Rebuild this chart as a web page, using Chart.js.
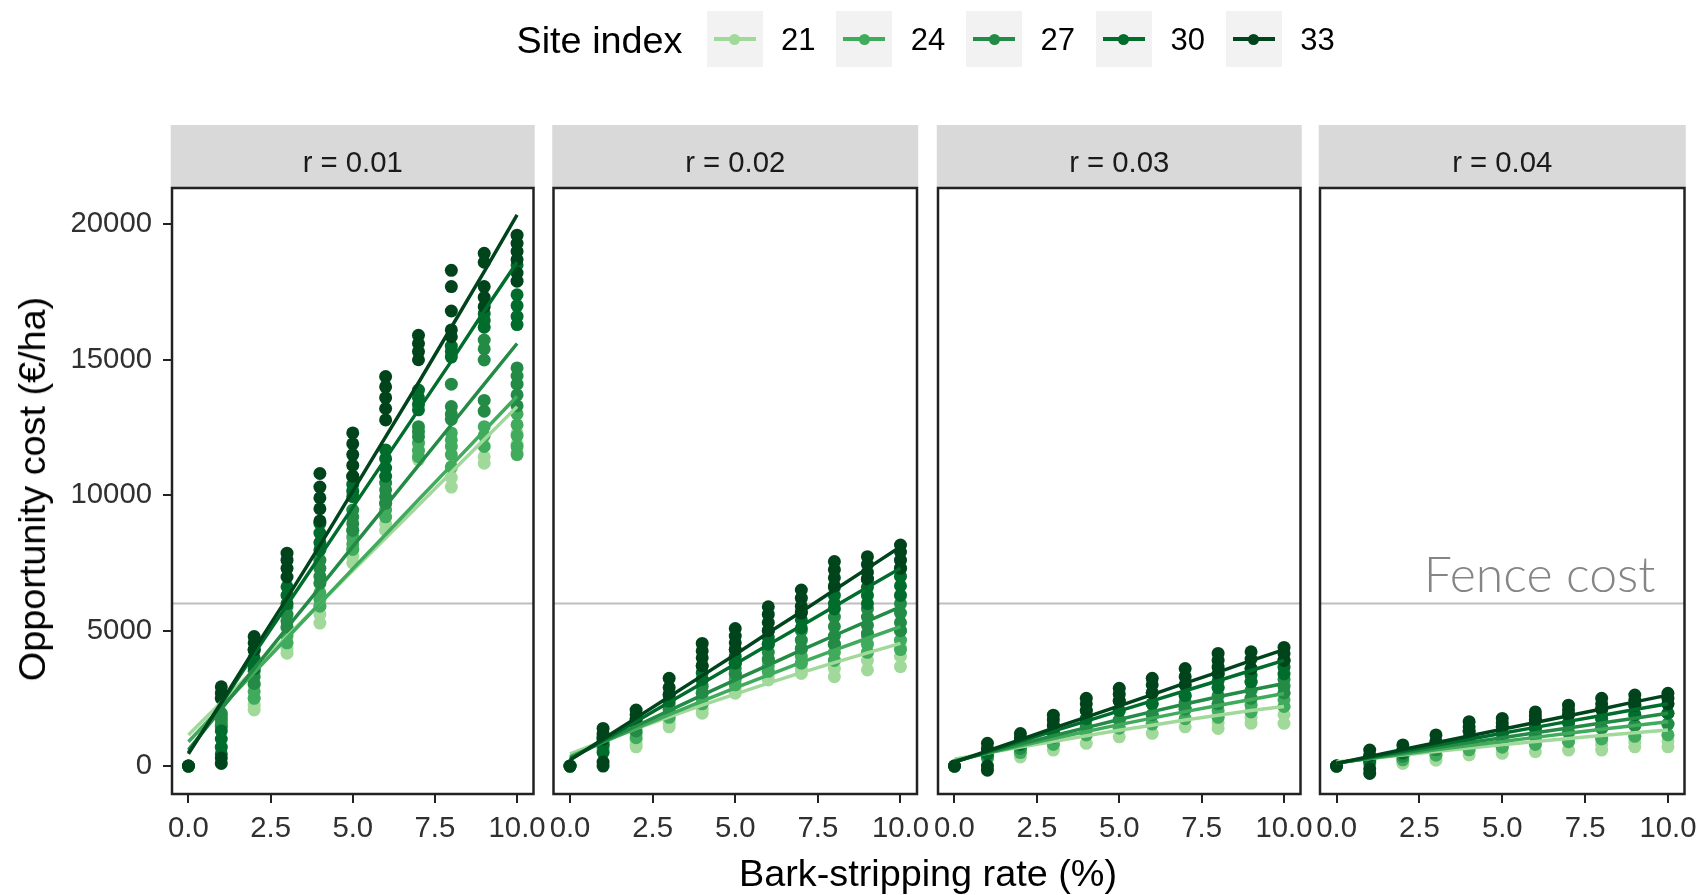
<!DOCTYPE html>
<html>
<head>
<meta charset="utf-8">
<title>Opportunity cost of bark stripping</title>
<script src="https://cdn.jsdelivr.net/npm/chart.js@4.4.1/dist/chart.umd.min.js"></script>
<style>
  html, body { margin: 0; padding: 0; background: #ffffff; }
  #figure { position: relative; width: 1699px; height: 895px; overflow: hidden;
            font-family: "Liberation Sans", Arial, sans-serif; }
  #figure canvas { position: absolute; top: 0; }
  .txt { position: absolute; white-space: nowrap; color: #000; }
  .key { position: absolute; background: #F2F2F2; }
  .key .ln { position: absolute; height: 4px; }
  .key .dot { position: absolute; border-radius: 50%; }
</style>
</head>
<body>
<div id="figure"></div>
<script>
// ---- data ---------------------------------------------------------------
const rates = [0, 1, 2, 3, 4, 5, 6, 7, 8, 9, 10];          // bark-stripping rate (%)
const siteIndex = [21, 24, 27, 30, 33];
const siteColors = ['#A1D99B', '#41AB5D', '#238B45', '#006D2C', '#00441B'];
const discountRates = ['0.01', '0.02', '0.03', '0.04'];
const xTicks = [0, 2.5, 5, 7.5, 10];
const yTicks = [0, 5000, 10000, 15000, 20000];
const xRange = [-0.5, 10.5];
const yRange = [-1030, 21340];
const fenceCost = 6000;                                     // €/ha

// simulated opportunity costs (€/ha), one list per bark-stripping rate
const obs_r01_si21 = [[0],[1600,1400],[2500,2250,2070],[4550,4350,4170],[5900,5600,5280],[8000,7750,7500],[9200,8950,8700],[11670,11450,11300],[11000,10650,10300],[11420,11180],[12300,11900,11600]];
const obs_r01_si24 = [[0],[1850,1650,1450],[3000,2750,2500],[5100,4800,4550],[6400,6150,5900],[8700,8450,8200,8000],[9700,9450,9200],[11920,11650,11420],[12300,12040,11800,11500,11050],[12530,12200,11800],[13000,12600,12200,11800,11500]];
const obs_r01_si27 = [[0],[1950,1750,1500],[3500,3300,3050],[5880,5600,5350,5140],[7600,7300,7000,6750],[9450,9200,8950,8700],[10450,10200,9950,9700],[12530,12350,12160],[14100,13270,13000,12800],[15730,15400,14990,13500,13100],[14700,14400,14100,13700,13300]];
const obs_r01_si30 = [[0],[1300,1000,700,450],[4280,4000,3750,3600],[6620,6300,6000],[8960,8600,8250,7980],[10700,10400,10150,9950],[11670,11350,11000,10700],[13880,13600,13350,13150],[15500,15300,15100],[16700,16450,16200],[18500,17400,17000,16600,16300]];
const obs_r01_si33 = [[0],[2930,2700,2500,300,100],[4780,4550,4300],[7860,7600,7300,6980],[10800,10300,9900,9500,9050],[12300,11900,11500,11100,10700],[14380,14000,13600,13200,12780],[15900,15600,15300,15000],[18300,17700,16800,16100,15850],[18930,18600,17700,17300,16960],[19600,19300,19000,18700,18200,17900]];

const obs_r02_si21 = [[0],[800,550],[950,800,710],[1700,1570,1450],[2300,2100,1950],[3000,2850,2690],[3500,3330,3180],[3800,3600,3420],[3900,3600,3300],[4200,3900,3550],[4400,4050,3670]];
const obs_r02_si24 = [[0],[900,650],[1200,1050],[2000,1800],[2700,2500,2300],[3400,3200,3000],[3900,3700,3500],[4300,4050,3800],[4500,4200,3900],[4800,4500,4200],[5000,4650,4300]];
const obs_r02_si27 = [[0],[1000,750],[1450,1300],[2300,2100],[3200,2950,2700],[3800,3600,3400],[4500,4200,3950],[5000,4650,4350],[5500,5150,4800,4500],[5800,5500,5200,4900],[6000,5650,5300,5000]];
const obs_r02_si30 = [[0],[1100,800,500],[1700,1550],[2600,2400],[3700,3450,3200],[4300,4050,3800],[5000,4750,4500],[5700,5400,5100],[6600,6300,6000,5800],[6900,6600,6300,6000],[7300,7000,6650,6300]];
const obs_r02_si33 = [[0],[1390,1200,1000,150,0],[2070,1900,1750],[3240,2900,2650],[4530,4250,4000,3700],[5080,4800,4550,4300],[5880,5600,5300,5000],[6500,6200,5900,5650],[7550,7250,6950,6650],[7730,7450,7150,6900],[8160,7900,7600,7300]];

const obs_r03_si21 = [[0],[400,250],[500,340],[800,590],[1150,840],[1400,1080],[1550,1210],[1750,1450],[1800,1600,1390],[2000,1800,1580],[2200,1900,1580]];
const obs_r03_si24 = [[0],[450,300],[650,500],[1050,800],[1450,1150],[1700,1400],[1900,1550],[2100,1750],[2300,2050,1800],[2500,2250,2000],[2700,2450,2200]];
const obs_r03_si27 = [[0],[500,350],[800,650],[1250,1050],[1750,1450],[2050,1700],[2300,1900],[2600,2350,2100],[2900,2600,2300],[3100,2800,2500],[3200,2950,2700]];
const obs_r03_si30 = [[0],[600,450],[950,800],[1500,1250],[2050,1750],[2400,2050],[2700,2300],[3000,2600],[3400,3150,2900],[3600,3350,3100],[3900,3650,3400]];
const obs_r03_si33 = [[0],[840,650,0,-150],[1200,1050,950],[1880,1700,1500],[2500,2300,2050],[2870,2650,2400],[3240,3000,2700],[3600,3300,3000],[4160,3900,3650,3400],[4220,3950,3600],[4380,4150,3900]];

const obs_r04_si21 = [[0],[200,50],[230,100],[400,220],[600,410],[700,470],[800,530],[900,590],[1000,800,590],[1100,900,710],[1150,930,710]];
const obs_r04_si24 = [[0],[250,100],[360,230],[600,400],[850,600],[950,700],[1100,800],[1250,900],[1400,1000],[1500,1100],[1550,1150]];
const obs_r04_si27 = [[0],[300,150],[480,360],[750,600],[1050,850],[1200,950],[1400,1100],[1600,1250],[1750,1400],[1900,1500],[1950,1550]];
const obs_r04_si30 = [[0],[350,200],[600,480],[900,750],[1300,1050],[1450,1200],[1700,1400],[1900,1600],[2100,1750],[2250,1900],[2300,1950]];
const obs_r04_si33 = [[0],[590,400,-100,-270],[780,600],[1150,900],[1640,1450,1300],[1760,1600,1450],[2000,1850,1700],[2250,2080,1900],[2500,2300,2100],[2620,2430,2250],[2690,2500,2300]];

// fitted opportunity cost at each bark-stripping rate
const fit_r01_si21 = [1150, 2360, 3570, 4790, 6000, 7210, 8420, 9630, 10850, 12060, 13270];
const fit_r01_si24 = [900, 2180, 3450, 4730, 6000, 7280, 8550, 9830, 11100, 12380, 13650];
const fit_r01_si27 = [600, 2100, 3600, 5100, 6600, 8100, 9600, 11100, 12600, 14100, 15600];
const fit_r01_si30 = [500, 2300, 4150, 5950, 7750, 9550, 11350, 13150, 14950, 16800, 18600];
const fit_r01_si33 = [450, 2350, 4300, 6200, 8150, 10150, 12150, 14150, 16200, 18250, 20350];

const fit_r02_si21 = [450, 920, 1380, 1820, 2250, 2660, 3060, 3450, 3820, 4180, 4530];
const fit_r02_si24 = [350, 880, 1390, 1900, 2400, 2890, 3360, 3830, 4280, 4720, 5150];
const fit_r02_si27 = [300, 900, 1480, 2050, 2620, 3180, 3730, 4280, 4820, 5350, 5880];
const fit_r02_si30 = [250, 950, 1650, 2360, 3060, 3770, 4480, 5180, 5890, 6600, 7300];
const fit_r02_si33 = [220, 1000, 1780, 2560, 3340, 4120, 4920, 5700, 6500, 7300, 8100];

const fit_r03_si21 = [250, 480, 700, 910, 1120, 1320, 1510, 1700, 1880, 2050, 2200];
const fit_r03_si24 = [200, 480, 750, 1020, 1280, 1530, 1770, 2010, 2240, 2460, 2680];
const fit_r03_si27 = [180, 500, 810, 1120, 1420, 1720, 2010, 2290, 2560, 2810, 3050];
const fit_r03_si30 = [150, 530, 910, 1290, 1660, 2040, 2410, 2780, 3150, 3530, 3900];
const fit_r03_si33 = [150, 560, 980, 1400, 1810, 2220, 2640, 3060, 3470, 3890, 4300];

const fit_r04_si21 = [150, 280, 410, 540, 670, 790, 910, 1020, 1130, 1230, 1330];
const fit_r04_si24 = [120, 280, 440, 600, 760, 910, 1060, 1210, 1360, 1500, 1640];
const fit_r04_si27 = [100, 300, 490, 680, 870, 1050, 1230, 1410, 1590, 1770, 1950];
const fit_r04_si30 = [100, 330, 550, 770, 990, 1210, 1430, 1650, 1870, 2090, 2300];
const fit_r04_si33 = [100, 360, 610, 860, 1110, 1360, 1610, 1860, 2110, 2370, 2620];

const obsByRate = [
  [obs_r01_si21, obs_r01_si24, obs_r01_si27, obs_r01_si30, obs_r01_si33],
  [obs_r02_si21, obs_r02_si24, obs_r02_si27, obs_r02_si30, obs_r02_si33],
  [obs_r03_si21, obs_r03_si24, obs_r03_si27, obs_r03_si30, obs_r03_si33],
  [obs_r04_si21, obs_r04_si24, obs_r04_si27, obs_r04_si30, obs_r04_si33]
];
const fitByRate = [
  [fit_r01_si21, fit_r01_si24, fit_r01_si27, fit_r01_si30, fit_r01_si33],
  [fit_r02_si21, fit_r02_si24, fit_r02_si27, fit_r02_si30, fit_r02_si33],
  [fit_r03_si21, fit_r03_si24, fit_r03_si27, fit_r03_si30, fit_r03_si33],
  [fit_r04_si21, fit_r04_si24, fit_r04_si27, fit_r04_si30, fit_r04_si33]
];

// ---- layout -------------------------------------------------------------
const FIG_H = 895;
const panelLeft  = [172, 553.5, 938, 1320];
const panelRight = [533.5, 917, 1300.5, 1684.5];
const PLOT_TOP = 188, PLOT_BOTTOM = 794;
const STRIP_TOP = 125, STRIP_BASELINE = 172;
const Y_AXIS_W = 172;
const SIDE_ROOM = 40;               // canvas margin so end tick labels never squeeze the panel
const FONT = '"Liberation Sans", Arial, sans-serif';
const TICK_SIZE = 29.3, TITLE_SIZE = 37.8, KEY_LABEL_SIZE = 31;
const INK = '#303030';

const fig = document.getElementById('figure');

function addText(text, css) {
  const d = document.createElement('div');
  d.className = 'txt';
  d.textContent = text;
  Object.assign(d.style, css);
  fig.appendChild(d);
  return d;
}

// facet strip above each panel and the panel frame
const facetFrame = {
  id: 'facetFrame',
  beforeDatasetsDraw(chart, args, opts) {
    const { ctx, chartArea: a } = chart;
    ctx.save();
    ctx.fillStyle = '#D9D9D9';
    ctx.fillRect(a.left - 1.25, STRIP_TOP, a.right - a.left + 2.5, a.top - STRIP_TOP);
    ctx.fillStyle = '#1A1A1A';
    ctx.font = TICK_SIZE + 'px ' + FONT;
    ctx.textAlign = 'center';
    ctx.textBaseline = 'alphabetic';
    ctx.fillText(opts.label, (a.left + a.right) / 2, STRIP_BASELINE);
    ctx.restore();
  },
  afterDatasetsDraw(chart) {
    const { ctx, chartArea: a } = chart;
    ctx.save();
    ctx.strokeStyle = '#222222';
    ctx.lineWidth = 2.5;
    ctx.strokeRect(a.left, a.top, a.right - a.left, a.bottom - a.top);
    ctx.restore();
  }
};

// annotation over the fence-cost reference line
const fenceLabel = {
  id: 'fenceLabel',
  afterDatasetsDraw(chart, args, opts) {
    if (!opts.text) return;
    const { ctx, chartArea: a } = chart;
    const y = chart.scales.y.getPixelForValue(fenceCost);
    ctx.save();
    ctx.font = '300 50px Lato, "Open Sans", sans-serif';
    ctx.fillStyle = '#858585';
    ctx.textAlign = 'right';
    ctx.textBaseline = 'alphabetic';
    ctx.fillText(opts.text, a.right - 29, y - 12);
    ctx.restore();
  }
};

const tickGrid = { drawOnChartArea: false, drawTicks: true, tickLength: 9, lineWidth: 2, color: '#222222' };

discountRates.forEach((r, p) => {
  const first = p === 0;
  const canvasLeft = first ? 0 : Math.floor(panelLeft[p]) - SIDE_ROOM;
  const canvasW = Math.ceil(panelRight[p]) + SIDE_ROOM - canvasLeft;
  const cv = document.createElement('canvas');
  cv.width = canvasW;
  cv.height = FIG_H;
  cv.style.left = canvasLeft + 'px';
  cv.style.width = canvasW + 'px';
  cv.style.height = FIG_H + 'px';
  fig.appendChild(cv);

  const datasets = [{
    data: [{ x: xRange[0], y: fenceCost }, { x: xRange[1], y: fenceCost }],
    showLine: true, borderColor: '#BEBEBE', borderWidth: 2, pointRadius: 0, order: 100
  }];
  siteIndex.forEach((si, s) => {
    const pts = [];
    obsByRate[p][s].forEach((vals, k) => vals.forEach(v => pts.push({ x: rates[k], y: v })));
    datasets.push({
      label: 'SI ' + si, data: pts, showLine: false,
      backgroundColor: siteColors[s], borderWidth: 0, pointRadius: 6.5, order: 50 - s
    });
    datasets.push({
      label: 'SI ' + si + ' fit', data: fitByRate[p][s].map((v, k) => ({ x: rates[k], y: v })),
      showLine: true, borderColor: siteColors[s], borderWidth: 3.5, pointRadius: 0, order: 10 - s
    });
  });

  const yScale = {
    type: 'linear', min: yRange[0], max: yRange[1], display: first,
    afterBuildTicks: ax => { ax.ticks = yTicks.map(v => ({ value: v })); },
    ticks: { callback: v => String(v), font: { family: FONT, size: TICK_SIZE },
             color: INK, padding: 11 },
    grid: tickGrid, border: { display: false }
  };
  if (first) yScale.afterFit = ax => { ax.width = Y_AXIS_W; };

  new Chart(cv, {
    type: 'scatter',
    data: { datasets },
    plugins: [facetFrame, fenceLabel],
    options: {
      responsive: false, animation: false, devicePixelRatio: 1, events: [],
      layout: { padding: {
        left: first ? 0 : panelLeft[p] - canvasLeft,
        right: canvasLeft + canvasW - panelRight[p],
        top: PLOT_TOP, bottom: 0 } },
      plugins: {
        legend: { display: false }, tooltip: { enabled: false },
        facetFrame: { label: 'r = ' + r },
        fenceLabel: { text: p === discountRates.length - 1 ? 'Fence cost' : '' }
      },
      scales: {
        x: {
          type: 'linear', min: xRange[0], max: xRange[1],
          afterBuildTicks: ax => { ax.ticks = xTicks.map(v => ({ value: v })); },
          afterFit: ax => { ax.height = FIG_H - PLOT_BOTTOM; },
          ticks: { callback: v => Number(v).toFixed(1), font: { family: FONT, size: TICK_SIZE },
                   color: INK, padding: 8, maxRotation: 0, autoSkip: false },
          grid: tickGrid, border: { display: false }
        },
        y: yScale
      }
    }
  });
});

// axis titles
addText('Bark-stripping rate (%)', { left: '928px', top: '848px', fontSize: TITLE_SIZE + 'px',
  lineHeight: '50px', transform: 'translateX(-50%)' });
addText('Opportunity cost (€/ha)', { left: '31.5px', top: '489px', fontSize: TITLE_SIZE + 'px',
  lineHeight: '50px', transform: 'translate(-50%, -50%) rotate(-90deg)' });

// legend
addText('Site index', { left: '516.5px', top: '12px', fontSize: TITLE_SIZE + 'px', lineHeight: '56px' });
siteIndex.forEach((si, s) => {
  const x0 = 706.5 + 129.8 * s;
  const key = document.createElement('div');
  key.className = 'key';
  Object.assign(key.style, { left: x0 + 'px', top: '11px', width: '56px', height: '56px' });
  const ln = document.createElement('div');
  ln.className = 'ln';
  Object.assign(ln.style, { left: '7px', top: '26px', width: '42px', background: siteColors[s] });
  const dot = document.createElement('div');
  dot.className = 'dot';
  Object.assign(dot.style, { left: '22.5px', top: '22.5px', width: '11px', height: '11px', background: siteColors[s] });
  key.appendChild(ln);
  key.appendChild(dot);
  fig.appendChild(key);
  addText(String(si), { left: (x0 + 74.5) + 'px', top: '12px', fontSize: KEY_LABEL_SIZE + 'px', lineHeight: '56px' });
});
</script>
</body>
</html>
